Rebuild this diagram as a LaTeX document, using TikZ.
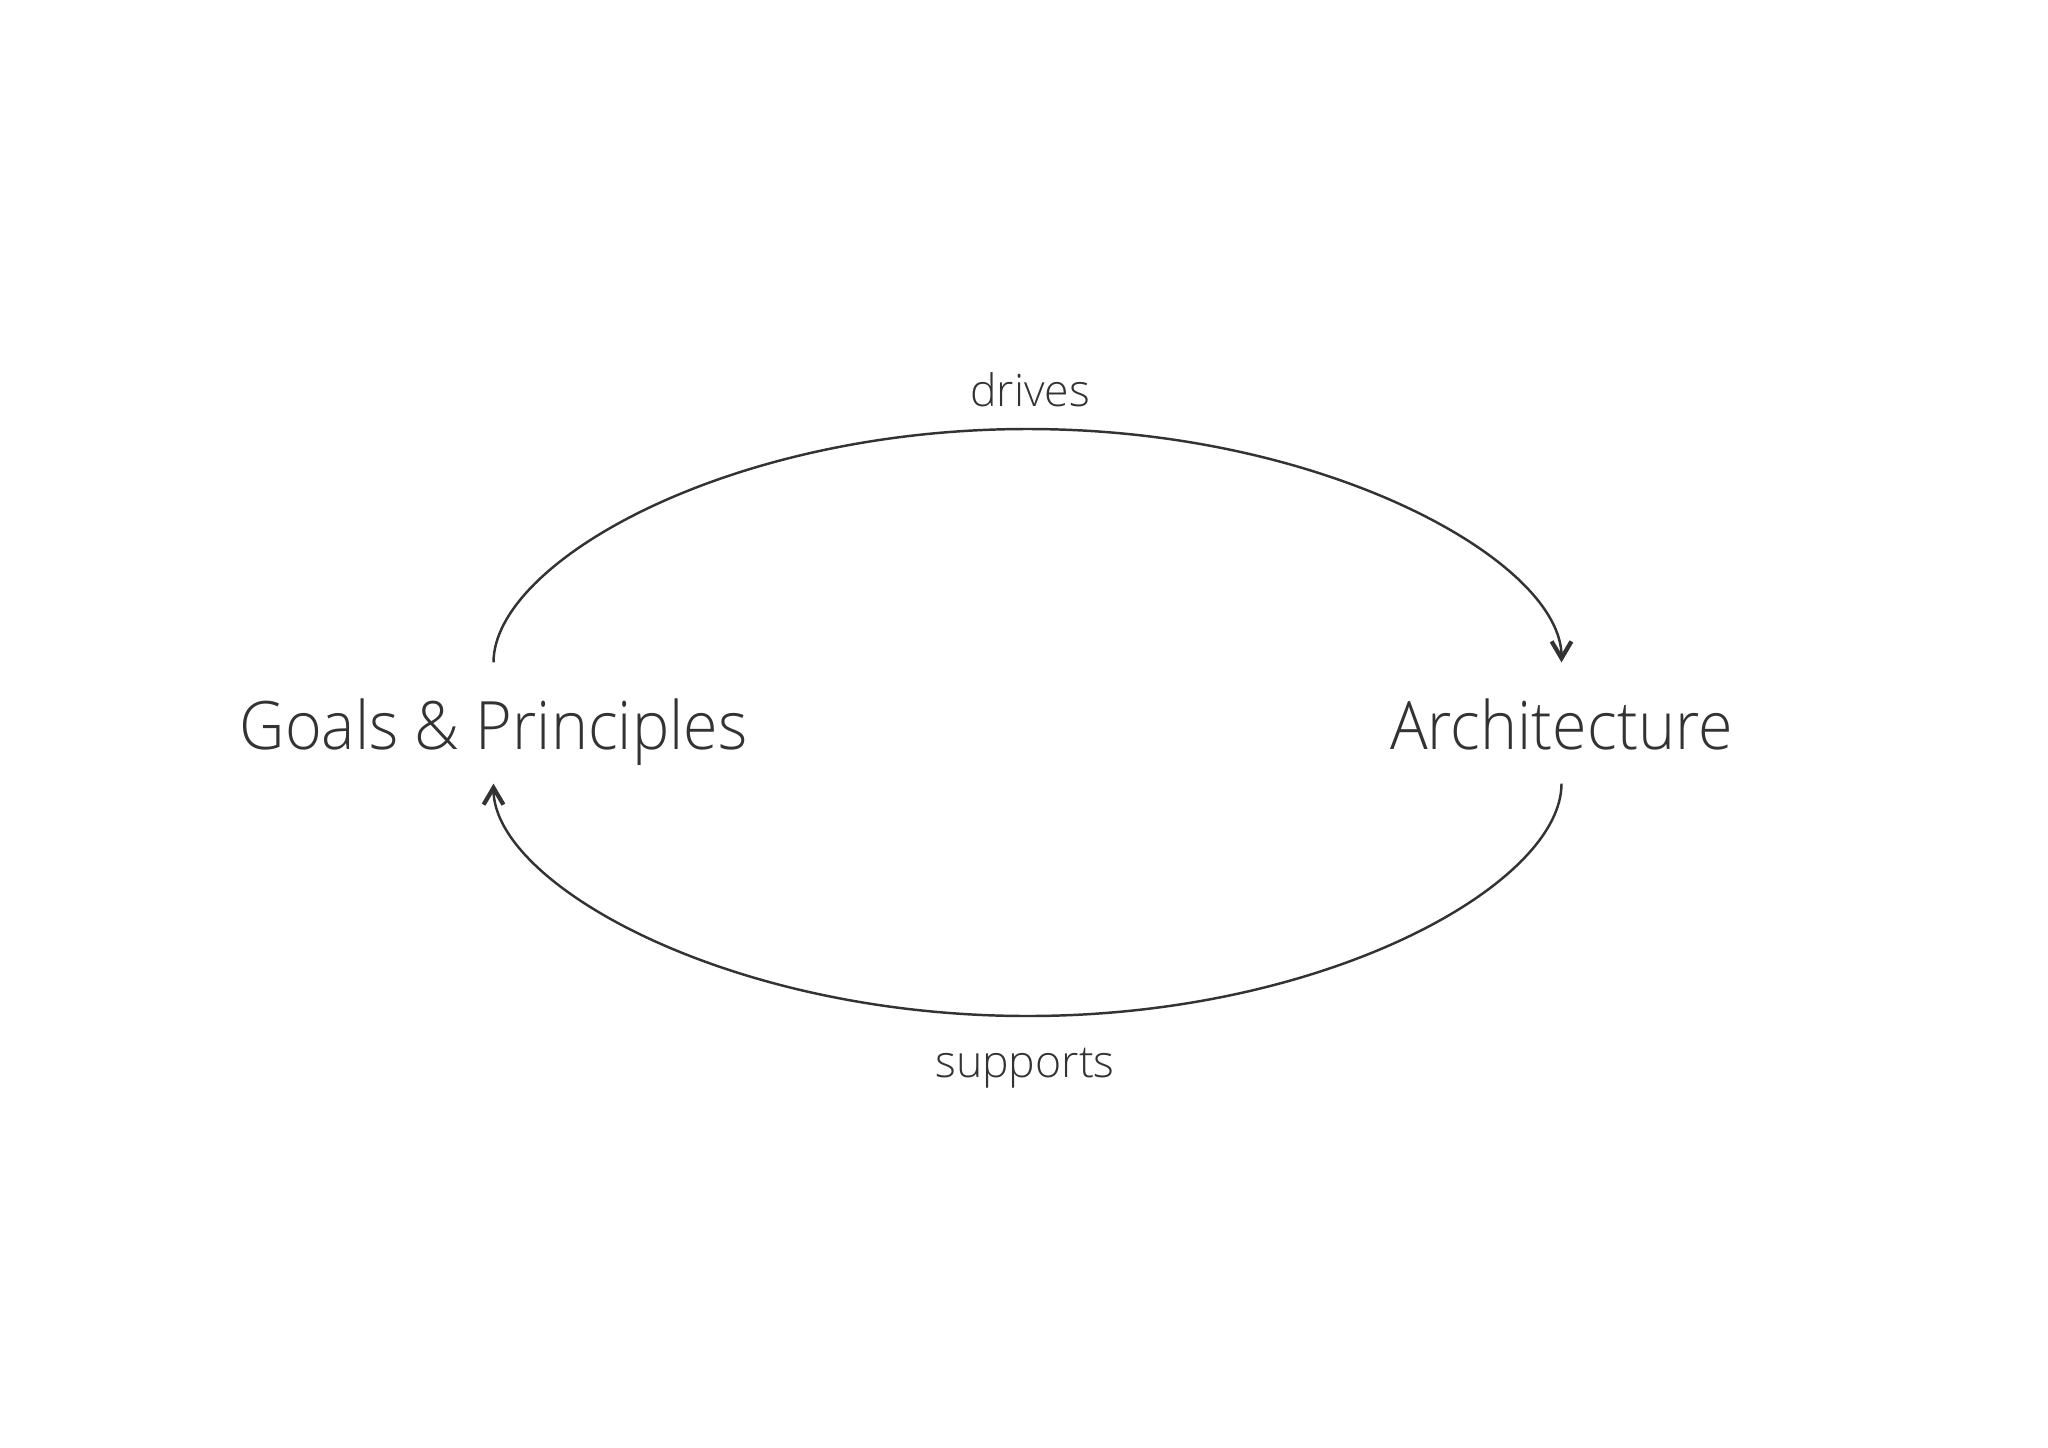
\documentclass[tikz,border=0pt]{standalone}
\usepackage{fontspec}
\IfFontExistsTF{Open Sans Light}{%
  \newfontfamily\bigfont{Open Sans Light}[FakeStretch=0.94]%
  \newfontfamily\smallfont{Open Sans Light}}{%
  \newfontfamily\bigfont{Open Sans}[FakeStretch=0.94]%
  \newfontfamily\smallfont{Open Sans}}
\usetikzlibrary{arrows.meta}
\definecolor{ink}{HTML}{333333}
\begin{document}
\begin{tikzpicture}[x=0.02cm,y=-0.02cm,
  lbl/.style={text=ink,font=\bigfont\fontsize{38}{40}\selectfont, inner sep=0pt, text height=30.6pt, text depth=0pt, minimum height=68.6pt},
  edgelbl/.style={text=ink,font=\smallfont\fontsize{25.4}{28}\selectfont, inner sep=0pt, anchor=base},
  conn/.style={draw=ink, line width=1.4pt, -{Straight Barb[length=9.6pt,width=11.3pt,line width=2.4pt]}}]
\useasboundingbox[fill=white] (0,0) rectangle (2048,1447);
\node[lbl] (G) at (493.5,723) {Goals \& Principles};
\node[lbl] (A) at (1561.5,723) {Architecture};
\node[edgelbl] (d) at (1030,406) {drives};
\node[edgelbl] (s) at (1025,1077) {supports};
\coordinate (topmid) at (1027.5,429);
\coordinate (botmid) at (1027.5,1016);
\draw[conn] (G.north) .. controls +(0,-100) and +(-300,0) .. (topmid)
  .. controls +(300,0) and +(0,-100) .. (A.north);
\draw[conn] (A.south) .. controls +(0,100) and +(300,0) .. (botmid)
  .. controls +(-300,0) and +(0,100) .. (G.south);
\end{tikzpicture}
\end{document}
